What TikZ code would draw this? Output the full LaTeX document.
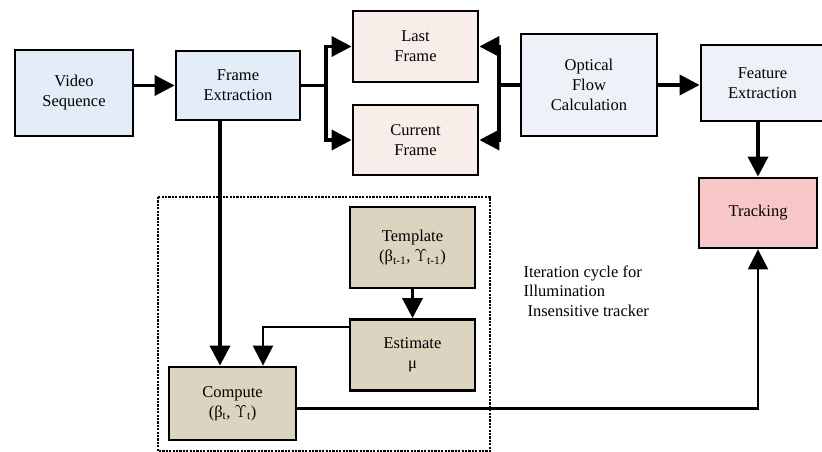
\documentclass[tikz,border=0pt]{standalone}
\usepackage{fontspec}
\setmainfont{Liberation Serif}
\usetikzlibrary{arrows.meta}
\definecolor{blueA}{HTML}{E4ECF8}
\definecolor{blueB}{HTML}{EEF2F8}
\definecolor{pinkA}{HTML}{F9EDEA}
\definecolor{pinkB}{HTML}{F8C6C6}
\definecolor{tanA}{HTML}{DCD4C1}
\tikzset{
  blk/.style={draw,line width=2.8pt,align=center,inner sep=0pt,font=\fontsize{16.5}{20}\selectfont},
  arr/.style={->,line width=3.6pt},
  arrthin/.style={->,line width=2.4pt}
}
\begin{document}
\begin{tikzpicture}[x=1pt,y=-1pt,>={Triangle[length=20pt,width=20pt]}]
  \useasboundingbox (0,0) rectangle (822,452);
  % iteration cycle frame
  \draw[line width=2.4pt,dash pattern=on 2.2pt off 1.2pt] (158,197) rectangle (490,451);
  % blocks of the main chain
  \node[blk,fill=blueA,minimum width=118pt,minimum height=86pt] (vidseq) at (74,93) {Video\\Sequence};
  \node[blk,fill=blueA,minimum width=124pt,minimum height=69pt] (frmext) at (238,85.5) {Frame\\Extraction};
  \node[blk,fill=pinkA,minimum width=125pt,minimum height=71pt] (lastfrm) at (415.5,46.5) {Last\\Frame};
  \node[blk,fill=pinkA,minimum width=125pt,minimum height=70pt] (curfrm) at (415.5,140) {Current\\Frame};
  \node[blk,fill=blueB,minimum width=136pt,minimum height=102pt] (optflow) at (589,85) {Optical\\Flow\\Calculation};
  \node[blk,fill=blueB,minimum width=123pt,minimum height=76pt] (featext) at (762.5,83) {Feature\\Extraction};
  \node[blk,fill=pinkB,minimum width=118pt,minimum height=70pt] (track) at (758,213) {Tracking};
  % blocks of the cycle
  \node[blk,fill=tanA,minimum width=125pt,minimum height=81pt] (templ) at (412.5,247.5) {Template\\(β\textsubscript{t-1}, $\Upsilon$\textsubscript{t-1})};
  \node[blk,fill=tanA,minimum width=125pt,minimum height=71pt] (estim) at (412.5,355) {Estimate\\μ};
  \node[blk,fill=tanA,minimum width=127pt,minimum height=73pt] (comp) at (232.5,403.5) {Compute\\(β\textsubscript{t}, $\Upsilon$\textsubscript{t})};
  \node[align=left,anchor=north west,font=\fontsize{16.5}{19.5}\selectfont] (itercap) at (520,262) {Iteration cycle for\\Illumination\\\hspace*{4pt}Insensitive tracker};
  % connectors
  \coordinate (splitl) at (326,85.5);
  \coordinate (splitr) at (499,85);
  \coordinate (downx) at (220,0);
  \coordinate (estx) at (263,0);
  \draw[arr] (vidseq.east |- frmext.west) -- (frmext.west);
  \draw[line width=3.6pt] (frmext.east) -- (splitl);
  \draw[arr] (splitl) |- (lastfrm.west);
  \draw[arr] (splitl) |- (curfrm.west);
  \draw[line width=3.6pt] (optflow.west) -- (splitr);
  \draw[arr] (splitr) |- (lastfrm.east);
  \draw[arr] (splitr) |- (curfrm.east);
  \draw[arr] (optflow.east) -- (featext.west |- optflow.east);
  \draw[arr] (featext.south -| track.north) -- (track.north);
  \draw[arr] (frmext.south -| downx) -- (comp.north -| downx);
  \draw[arr] (templ) -- (estim);
  \draw[arrthin] ([yshift=28pt]estim.west) -| (comp.north -| estx);
  \draw[arrthin] ([yshift=-5pt]comp.east) -| (track.south);
\end{tikzpicture}
\end{document}
